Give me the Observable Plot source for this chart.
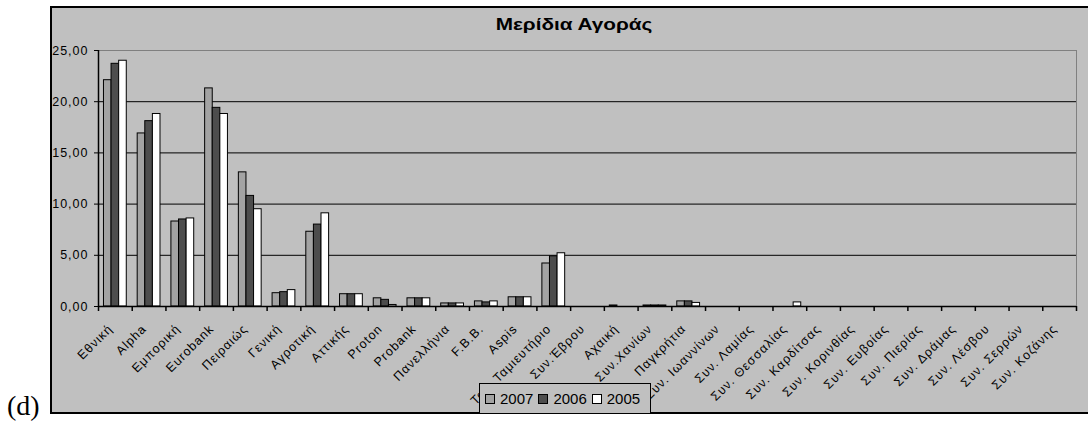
<!DOCTYPE html>
<html><head><meta charset="utf-8">
<script src="https://cdn.jsdelivr.net/npm/d3@7"></script>
<script src="https://cdn.jsdelivr.net/npm/@observablehq/plot@0.6"></script>
<style>
html,body{margin:0;padding:0;background:#fff;width:1088px;height:428px;overflow:hidden;font-family:Arial,"Liberation Sans",sans-serif;}
#box{position:absolute;left:50px;top:6px;width:1040px;height:404px;background:#c0c0c0;border-top:2px solid #000;border-left:2px solid #000;border-bottom:2px solid #000;}
#chart{position:absolute;left:0;top:0;}
#chart svg text{letter-spacing:1px;}
#title{position:absolute;left:474px;top:15px;width:200px;text-align:center;font:bold 17px Arial,"Liberation Sans",sans-serif;line-height:20px;color:#000;transform:scaleX(1.22);}
#legend{position:absolute;left:479px;top:383px;width:170px;height:29px;background:#c0c0c0;border:1px solid #000;border-bottom:none;display:flex;align-items:center;font:15px Arial,"Liberation Sans",sans-serif;color:#000;}
#legend .it{display:flex;align-items:center;margin-left:5px;}
#legend .sw{width:8px;height:8px;border:1px solid #000;margin-right:5px;}
#tag{position:absolute;left:7px;top:390px;font:28px "Liberation Serif","DejaVu Serif",serif;color:#000;line-height:32px;}
</style></head>
<body>
<div id="box"></div>
<div id="chart"></div>
<div id="title">Μερίδια Αγοράς</div>
<div id="legend"></div>
<div id="tag">(d)</div>
<script>
const banks = ["Εθνική","Alpha","Εμπορική","Eurobank","Πειραιώς","Γενική","Αγροτική","Αττικής","Proton","Probank","Πανελλήνια","F.B.B.","Aspis","Ταχ. Ταμιευτήριο","Συν.Έβρου","Αχαική","Συν.Χανίων","Παγκρήτια","Συν. Ιωαννίνων","Συν. Λαμίας","Συν. Θεσσαλίας","Συν. Καρδίτσας","Συν. Κορινθίας","Συν. Ευβοίας","Συν. Πιερίας","Συν. Δράμας","Συν. Λέσβου","Συν. Σερρών","Συν. Κοζάνης"];
const years = ["2007","2006","2005"];
const v2007 = [22.1,16.9,8.3,21.3,13.1,1.3,7.3,1.2,0.8,0.8,0.3,0.5,0.9,4.2,0,0.1,0.1,0.5,0,0,0,0,0,0,0,0,0,0,0];
const v2006 = [23.7,18.1,8.5,19.4,10.8,1.4,8.0,1.2,0.65,0.8,0.3,0.4,0.9,4.9,0,0,0.1,0.5,0,0,0,0,0,0,0,0,0,0,0];
const v2005 = [24.0,18.8,8.6,18.8,9.5,1.6,9.1,1.2,0.15,0.8,0.3,0.5,0.9,5.2,0,0,0.1,0.35,0,0,0.4,0,0,0,0,0,0,0,0];
const yTicks = [0,5,10,15,20,25];
const colors = ["#a3a3a3","#4d4d4d","#ffffff"];

const series = [v2007, v2006, v2005];
const rows = banks.flatMap((b,i)=>years.map((yr,k)=>({bank:b, year:yr, value:series[k][i]}))).filter(d=>d.value>0);

const W=1088, H=428, ml=98, mr=12, mt=50, mb=122;
const bw=(W-ml-mr)/banks.length, barW=7.6, off=(bw-3*barW)/2;
const last=banks[banks.length-1];

const plot = Plot.plot({
  width: W, height: H,
  marginLeft: ml, marginRight: mr, marginTop: mt, marginBottom: mb,
  style: {background:"transparent", fontSize:"12.5px", fontFamily:"Arial, 'Liberation Sans', sans-serif", color:"#000", overflow:"visible"},
  x: {domain: banks, padding: 0, round: false, axis: null},
  y: {domain: [0,25], ticks: yTicks, tickFormat: d => d.toFixed(2).replace(".", ","), tickSize: 4, tickPadding: 6, label: null},
  marks: [
    Plot.frame({stroke:"#808080"}),
    Plot.ruleY(yTicks.slice(1, -1), {stroke:"#000"}),
    ...years.map((yr,k)=>Plot.barY(rows.filter(d=>d.year===yr), {x:"bank", y:"value", fill: colors[k], stroke:"#000", strokeWidth:1, insetLeft: off+k*barW, insetRight: bw-off-(k+1)*barW})),
    Plot.ruleY([0], {stroke:"#000", strokeWidth:1.5}),
    Plot.ruleX([banks[0]], {dx:-bw/2, stroke:"#000", strokeWidth:1.5}),
    Plot.ruleX(banks, {dx:-bw/2, y1:0, y2:0, insetBottom:-5, stroke:"#000", strokeWidth:1.5}),
    Plot.ruleX([last], {dx:bw/2, y1:0, y2:0, insetBottom:-5, stroke:"#000", strokeWidth:1.5}),
    Plot.text(banks, {x: d=>d, frameAnchor:"bottom", rotate:-45, textAnchor:"end", dx:-2, dy:23, fill:"#000"})
  ]
});
document.getElementById("chart").appendChild(plot);

const leg = document.getElementById("legend");
years.forEach((yr,k)=>{
  const it=document.createElement("div"); it.className="it";
  const sw=document.createElement("div"); sw.className="sw"; sw.style.background=colors[k];
  const t=document.createElement("span"); t.textContent=yr;
  it.appendChild(sw); it.appendChild(t); leg.appendChild(it);
});
</script>
</body></html>
